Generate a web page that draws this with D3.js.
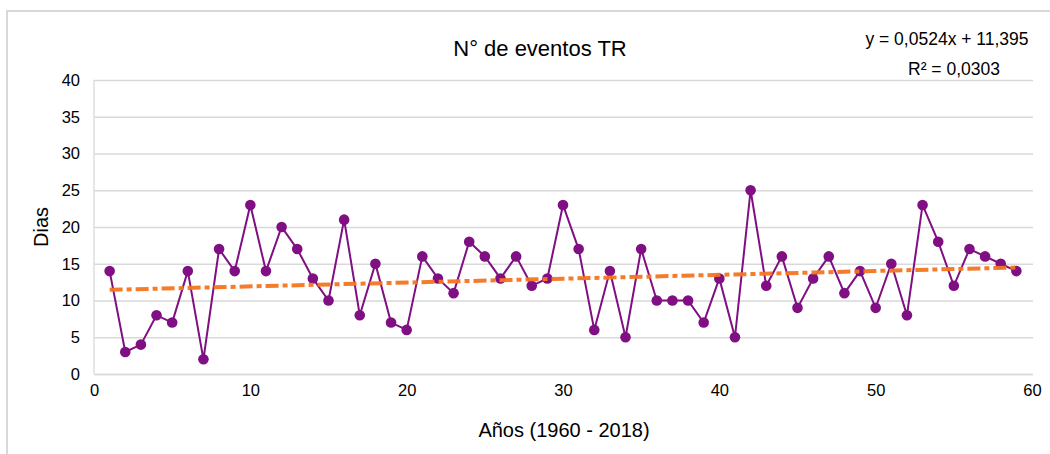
<!DOCTYPE html>
<html>
<head>
<meta charset="utf-8">
<script src="https://cdn.jsdelivr.net/npm/d3@7"></script>
<style>
  body { margin: 0; background: #fff; }
  svg { display: block; font-family: "Liberation Sans", Arial, sans-serif; }
</style>
</head>
<body>
<svg id="chart" width="1050" height="454"></svg>
<script>
const years = d3.range(1, 60);
const eventos = [14, 3, 4, 8, 7, 14, 2, 17, 14, 23,
                 14, 20, 17, 13, 10, 21, 8, 15, 7, 6,
                 16, 13, 11, 18, 16, 13, 16, 12, 13, 23,
                 17, 6, 14, 5, 17, 10, 10, 10, 7, 13,
                 5, 25, 12, 16, 9, 13, 16, 11, 14, 9,
                 15, 8, 23, 18, 12, 17, 16, 15, 14];
const xTicks = [0, 10, 20, 30, 40, 50, 60];
const yTicks = [0, 5, 10, 15, 20, 25, 30, 35, 40];
const trendSlope = 0.0524;
const trendIntercept = 11.395;
const titleText = "N° de eventos TR";
const xTitle = "Años (1960 - 2018)";
const yTitle = "Dias";
const eqText = "y = 0,0524x + 11,395";
const r2Text = "R² = 0,0303";

const svg = d3.select("#chart");

// chart border
svg.append("rect")
  .attr("x", 7).attr("y", 11)
  .attr("width", 1060).attr("height", 460)
  .attr("fill", "none").attr("stroke", "#d9d9d9").attr("stroke-width", 2);

const x = d3.scaleLinear().domain([0, 60]).range([94, 1032]);
const y = d3.scaleLinear().domain([0, 40]).range([374, 80]);

// gridlines
svg.append("g")
  .attr("transform", `translate(${x(0)},0)`)
  .call(d3.axisLeft(y).tickValues(yTicks).tickSize(-(x(60) - x(0) + 1)).tickFormat(""))
  .call(g => g.select(".domain").remove())
  .call(g => g.selectAll("line").attr("stroke", "#d9d9d9").attr("stroke-width", 1.3));

// left axis line
svg.append("line")
  .attr("x1", x(0)).attr("x2", x(0))
  .attr("y1", y(40)).attr("y2", y(0))
  .attr("stroke", "#d9d9d9").attr("stroke-width", 1.3);

// y tick labels
const yAxis = svg.append("g")
  .attr("transform", `translate(${x(0) - 3},0)`)
  .call(d3.axisLeft(y).tickValues(yTicks).tickSize(0).tickPadding(11))
  .call(g => g.select(".domain").remove());
yAxis.selectAll("text")
  .attr("font-size", 16.5).attr("fill", "#000")
  .attr("font-family", "Liberation Sans, Arial, sans-serif");

// x tick labels
const xAxis = svg.append("g")
  .attr("transform", `translate(0,${y(0)})`)
  .call(d3.axisBottom(x).tickValues(xTicks).tickSize(0).tickPadding(10))
  .call(g => g.select(".domain").attr("stroke", "#d9d9d9").attr("stroke-width", 1.3));
xAxis.selectAll("text")
  .attr("font-size", 16.5).attr("fill", "#000")
  .attr("font-family", "Liberation Sans, Arial, sans-serif");

// data line
const line = d3.line().x((d, i) => x(years[i])).y(d => y(d));
svg.append("path")
  .datum(eventos)
  .attr("d", line)
  .attr("fill", "none")
  .attr("stroke", "#7f0f82")
  .attr("stroke-width", 2);

// markers
svg.append("g").selectAll("circle")
  .data(eventos)
  .join("circle")
  .attr("cx", (d, i) => x(years[i]))
  .attr("cy", d => y(d))
  .attr("r", 5.3)
  .attr("fill", "#7f0f82");

// trendline
const x0 = years[0], x1 = years[years.length - 1];
svg.append("line")
  .attr("x1", x(x0)).attr("y1", y(trendSlope * x0 + trendIntercept))
  .attr("x2", x(x1)).attr("y2", y(trendSlope * x1 + trendIntercept))
  .attr("stroke", "#f57520")
  .attr("stroke-width", 4)
  .attr("stroke-dasharray", "13,4,5,4")
  .attr("opacity", 0.95);

// title
svg.append("text")
  .attr("x", 540).attr("y", 56)
  .attr("text-anchor", "middle")
  .attr("font-size", 22).attr("fill", "#000")
  .text(titleText);

// equation
svg.append("text")
  .attr("x", 947).attr("y", 45)
  .attr("text-anchor", "middle")
  .attr("font-size", 17.5).attr("fill", "#000")
  .text(eqText);
svg.append("text")
  .attr("x", 954).attr("y", 75)
  .attr("text-anchor", "middle")
  .attr("font-size", 17.5).attr("fill", "#000")
  .text(r2Text);

// axis titles
svg.append("text")
  .attr("x", 564).attr("y", 437)
  .attr("text-anchor", "middle")
  .attr("font-size", 20).attr("fill", "#000")
  .text(xTitle);
svg.append("text")
  .attr("transform", "translate(48,227) rotate(-90)")
  .attr("text-anchor", "middle")
  .attr("font-size", 20).attr("fill", "#000")
  .text(yTitle);
</script>
</body>
</html>
